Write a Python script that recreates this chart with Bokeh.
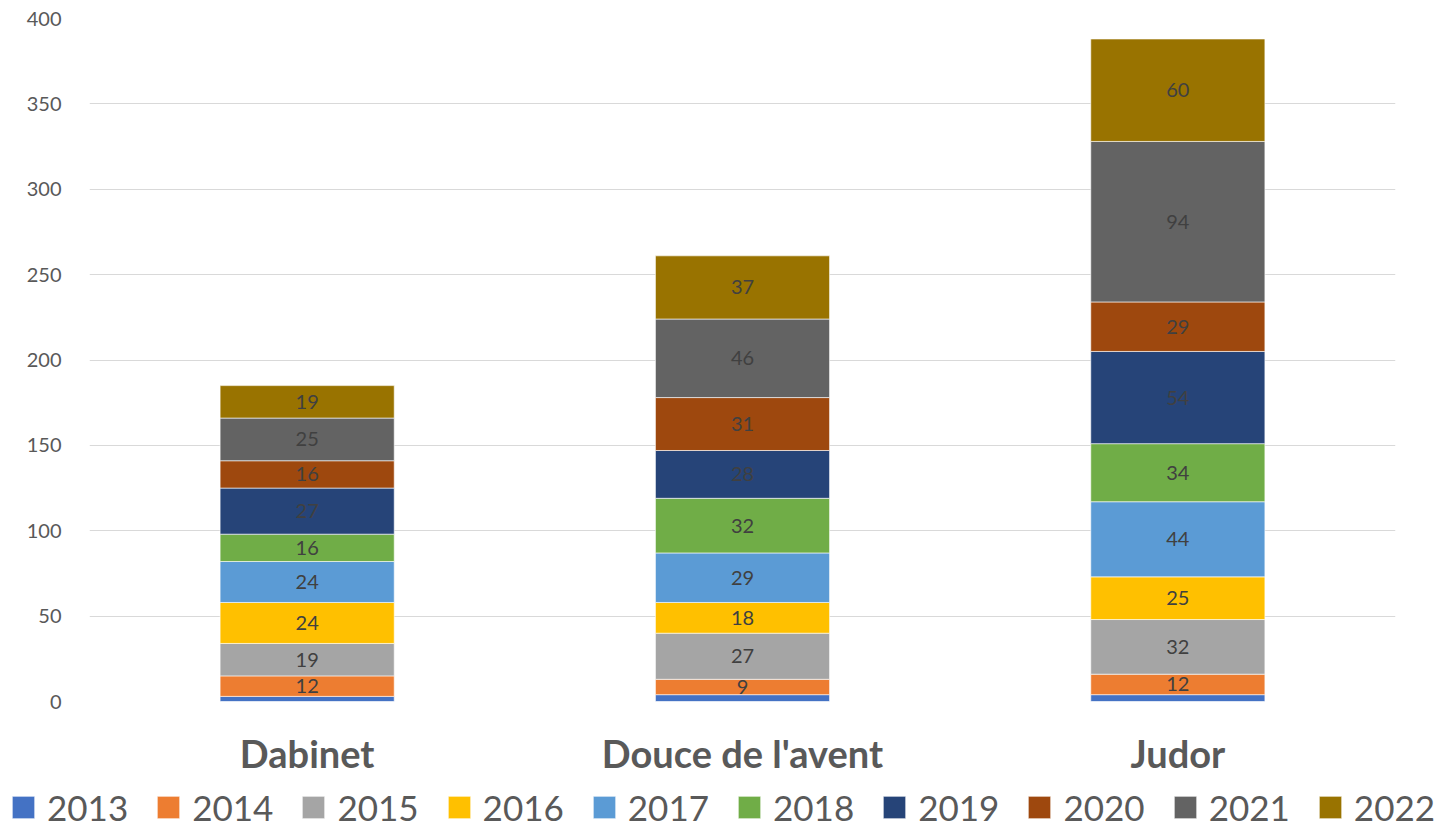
from bokeh.plotting import figure
from bokeh.layouts import column
from bokeh.models import ColumnDataSource, FactorRange, Legend, LegendItem, FixedTicker, Range1d
from bokeh.core.properties import value
from bokeh.embed import file_html
from bokeh.resources import INLINE

categories = ["Dabinet", "Douce de l'avent", "Judor"]
years = ["2013", "2014", "2015", "2016", "2017", "2018", "2019", "2020", "2021", "2022"]
v2013 = [3, 4, 4]
v2014 = [12, 9, 12]
v2015 = [19, 27, 32]
v2016 = [24, 18, 25]
v2017 = [24, 29, 44]
v2018 = [16, 32, 34]
v2019 = [27, 28, 54]
v2020 = [16, 31, 29]
v2021 = [25, 46, 94]
v2022 = [19, 37, 60]
series = [v2013, v2014, v2015, v2016, v2017, v2018, v2019, v2020, v2021, v2022]
colors = ["#4472C4", "#ED7D31", "#A5A5A5", "#FFC000", "#5B9BD5",
          "#70AD47", "#264478", "#9E480E", "#636363", "#997300"]
y_ticks = [0, 50, 100, 150, 200, 250, 300, 350, 400]

data = {"cat": categories}
for y, s in zip(years, series):
    data[y] = s
source = ColumnDataSource(data)

p = figure(x_range=FactorRange(*categories), y_range=(0, 400),
           width=1448, height=780, output_backend="svg", toolbar_location=None,
           min_border_left=89, min_border_right=53, min_border_top=18,
           min_border_bottom=79)
p.frame_align = False

p.vbar_stack(years, x="cat", width=0.4, color=colors, source=source,
             line_color="white", line_width=1, line_alpha=0.6)

# data labels
lx, ly, lt = [], [], []
bottoms = [0] * len(categories)
for y, s in zip(years, series):
    for i, c in enumerate(categories):
        if y != "2013":
            lx.append(c)
            ly.append(bottoms[i] + s[i] / 2)
            lt.append(str(s[i]))
        bottoms[i] += s[i]
lsrc = ColumnDataSource(dict(x=lx, y=ly, t=lt))
p.text(x="x", y="y", text="t", source=lsrc, text_align="center", text_baseline="middle",
       text_font=value("Lato"), text_font_size="20px", text_color="#404040")

# axes
p.xaxis.axis_line_color = None
p.xaxis.major_tick_line_color = None
p.xaxis.minor_tick_line_color = None
p.xaxis.major_label_text_font = "Lato"
p.xaxis.major_label_text_font_style = "bold"
p.xaxis.major_label_text_font_size = "38px"
p.xaxis.major_label_text_color = "#595959"
p.xaxis.major_label_standoff = 22

p.yaxis.ticker = FixedTicker(ticks=y_ticks)
p.yaxis.axis_line_color = None
p.yaxis.major_tick_line_color = None
p.yaxis.minor_tick_line_color = None
p.yaxis.major_label_text_font = "Lato"
p.yaxis.major_label_text_font_size = "20px"
p.yaxis.major_label_text_color = "#595959"
p.yaxis.major_label_standoff = 22

p.xgrid.grid_line_color = None
p.ygrid.grid_line_color = "#d9d9d9"
p.ygrid.grid_line_width = 1
p.outline_line_color = None

# legend strip (own full-width frame)
p2 = figure(width=1448, height=48, output_backend="svg", toolbar_location=None,
            x_range=Range1d(0, 1), y_range=Range1d(0, 1),
            x_axis_location=None, y_axis_location=None,
            min_border_left=0, min_border_right=0, min_border_top=0, min_border_bottom=0)
p2.frame_align = False
p2.xgrid.grid_line_color = None
p2.ygrid.grid_line_color = None
p2.outline_line_color = None
p2.border_fill_color = "white"
items = []
for y, c in zip(years, colors):
    r = p2.vbar(x=[5], top=[1], width=0.1, color=c, line_color="white",
                line_width=1, line_alpha=0.6)
    items.append(LegendItem(label=y, renderers=[r]))
legend = Legend(items=items, orientation="horizontal", location=(9, 0),
                glyph_width=28, glyph_height=28, label_standoff=10, spacing=26,
                label_height=22,
                padding=0, margin=0, border_line_color=None, background_fill_alpha=0,
                label_text_font="Lato", label_text_font_size="35px",
                label_text_color="#595959")
p2.add_layout(legend)

layout = column(p, p2, spacing=0)
open("out.html", "w").write(file_html(layout, INLINE))
